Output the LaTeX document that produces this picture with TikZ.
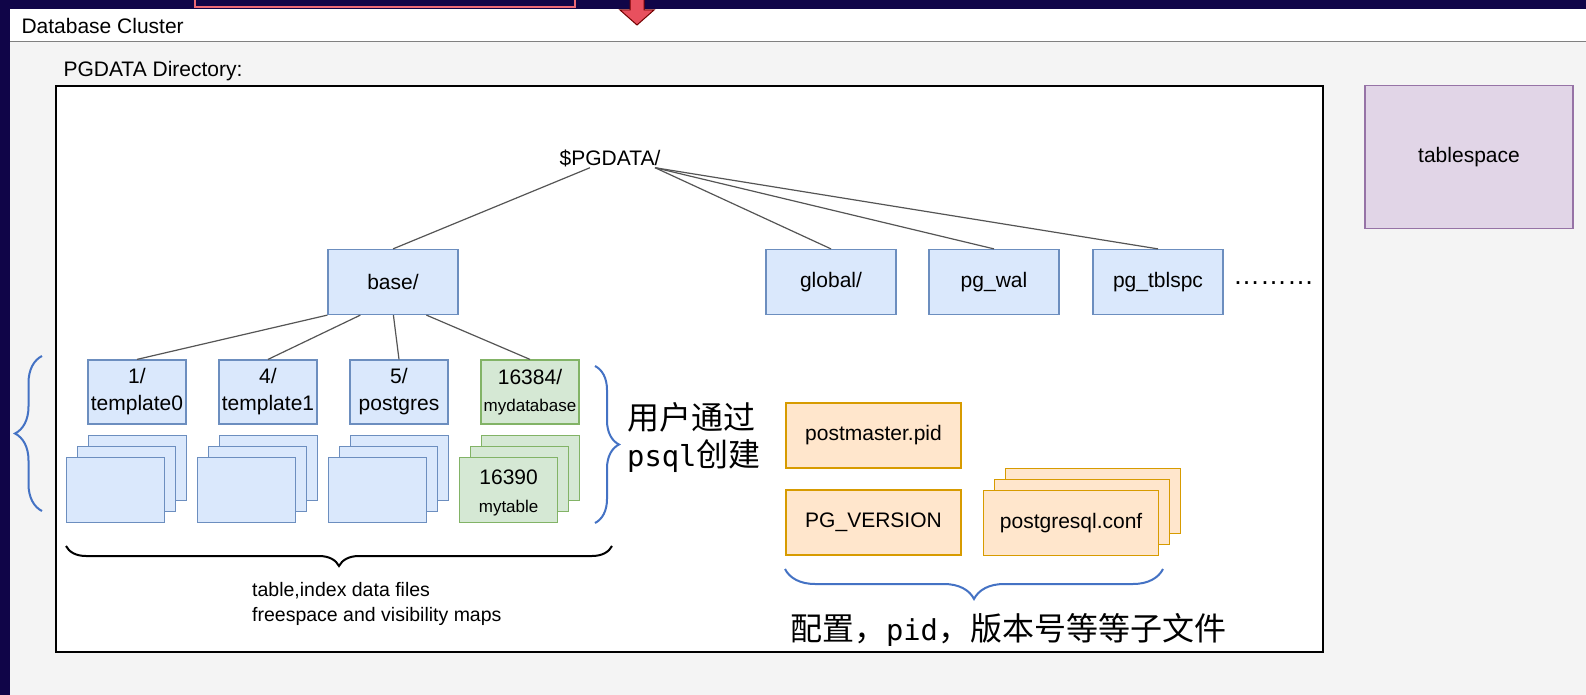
\documentclass[tikz,border=0pt]{standalone}
\usepackage{fontspec}
\setmainfont{Liberation Sans}
\newfontfamily\cjk{Noto Sans CJK SC}
\newfontfamily\halfmono[Scale=0.9]{DejaVu Sans Mono}
\usetikzlibrary{decorations.pathreplacing,positioning}

\definecolor{navy}{RGB}{16,5,72}
\definecolor{panelgrey}{RGB}{244,244,244}
\definecolor{dirFill}{HTML}{DAE8FC}
\definecolor{dirLine}{HTML}{6C8EBF}
\definecolor{dbFill}{HTML}{D5E8D4}
\definecolor{dbLine}{HTML}{82B366}
\definecolor{cfgFill}{HTML}{FFE6CC}
\definecolor{cfgLine}{HTML}{D79B00}
\definecolor{spaceFill}{HTML}{E1D5E7}
\definecolor{spaceLine}{HTML}{9673A6}
\definecolor{braceBlue}{HTML}{4472C4}
\definecolor{arrowRed}{HTML}{E8505E}
\definecolor{linkGrey}{RGB}{85,85,85}

\newcommand{\pxfont}[2]{\fontsize{#1}{#2}\selectfont}

\tikzset{
  dirbox/.style={draw=dirLine, fill=dirFill, line width=1.2pt, inner sep=0pt,
    align=center, font=\pxfont{21}{27}},
  dbbox/.style={dirbox, draw=dbLine, fill=dbFill},
  cfgbox/.style={dirbox, draw=cfgLine, fill=cfgFill, minimum width=175, minimum height=65},
  link/.style={draw=linkGrey, line width=1.2pt},
  curly/.style={decorate, decoration={brace, amplitude=#1}, line width=2pt}
}

\begin{document}
\begin{tikzpicture}[x=1pt, y=-1pt]
  \useasboundingbox (0,0) rectangle (1586,695);
  % background and cluster panel
  \fill[navy] (0,0) rectangle (1586,695);
  \fill[panelgrey] (10,9) rectangle (1586,695);
  \fill[white] (10,9) rectangle (1586,42);
  \draw[gray, line width=1pt] (10,42) -- (1586,42);
  \draw[draw=arrowRed!85, fill=navy, line width=1.2pt] (195,-5) rectangle (575,7);
  \filldraw[fill=arrowRed, draw=red!45!black, line width=1pt]
    (630,-2) -- (644,-2) -- (644,10) -- (654,10) -- (637,25) -- (620,10) -- (630,10) -- cycle;
  \node[anchor=west, font=\pxfont{21}{26}] (cluster) at (18,26) {Database Cluster};

  % PGDATA directory
  \node[anchor=west, font=\pxfont{21}{26}] (pgdatalabel) at (60,71) {PGDATA Directory:};
  \draw[black, fill=white, line width=1.3pt] (56,86) rectangle (1323,652);

  \node[font=\pxfont{21}{26}, inner sep=1pt] (pgdata) at (610,158) {\$PGDATA/};
  \node[dirbox, minimum width=130, minimum height=65] (base) at (393,282) {base/};
  \node[dirbox, minimum width=130, minimum height=65] (global) at (831,282) {global/};
  \node[dirbox, minimum width=130, minimum height=65] (pgwal) at (994,282) {pg\_wal};
  \node[dirbox, minimum width=130, minimum height=65] (pgtblspc) at (1158,282) {pg\_tblspc};
  \node[anchor=base west, font=\pxfont{27}{30}, inner sep=0pt] (more) at (1233,284) {………};

  \draw[link] ([xshift=-20]pgdata.south) -- (base.north);
  \foreach \sub in {global, pgwal, pgtblspc}
    \draw[link] ([xshift=45]pgdata.south) -- (\sub.north);

  % databases under base/
  \node[dirbox, minimum width=98, minimum height=64] (tmpl0) at (137,392) {1/\\template0};
  \node[dirbox, minimum width=98, minimum height=64] (tmpl1) at (268,392) {4/\\template1};
  \node[dirbox, minimum width=98, minimum height=64] (postgres) at (399,392) {5/\\postgres};
  \node[dbbox, minimum width=98, minimum height=64] (mydb) at (530,392)
    {16384/\\\pxfont{17}{28}mydatabase};

  \foreach \child [count=\j from 0] in {tmpl0, tmpl1, postgres, mydb}
    \draw[link] ([xshift={33*\j}]base.south west) -- (\child.north);

  % data files, three sheets each
  \foreach \bx/\edge/\face [count=\i] in {88/dirLine/dirFill, 219/dirLine/dirFill,
      350/dirLine/dirFill, 481/dbLine/dbFill} {
    \foreach \k in {0,1,2}
      \node[dirbox, draw=\edge, fill=\face, minimum width=98, minimum height=65,
        anchor=north west] (file\i\k) at ({\bx-11*\k}, {435+11*\k}) {};
  }
  \node[align=center, inner sep=0pt, font=\pxfont{21}{28}] (mytable) at ([yshift=-3]file42)
    {16390\\\pxfont{17}{28}mytable};

  \draw[curly=27, draw=braceBlue] (42,511) -- (42,356);
  \draw[curly=24, draw=braceBlue] (595,366) -- (595,523);
  \node[anchor=west, inner sep=0pt, align=left, font=\cjk\pxfont{32}{37}] (bypsql)
    at (627,437) {用户通过\\{\halfmono psql}创建};

  \draw[curly=20, draw=black] (612,546) -- (66,546);
  \node[anchor=west, inner sep=0pt, align=left, font=\pxfont{19.5}{25}] (maps)
    at (252,604) {table,index data files\\freespace and visibility maps};

  % config files
  \node[cfgbox] (pidfile) at (873.5,435.5) {postmaster.pid};
  \node[cfgbox] (version) at (873.5,522.5) {PG\_VERSION};
  \foreach \k in {0,1}
    \node[cfgbox, anchor=north west] (conf\k) at ({1005-11*\k}, {468+11*\k}) {};
  \node[cfgbox, anchor=north west] (conf2) at (983,490) {postgresql.conf};

  \draw[curly=30, draw=braceBlue] (1163,569) -- (785,569);
  \node[font=\cjk\pxfont{32}{37}, inner sep=0pt] (cfgnote) at (1008,630)
    {配置，{\halfmono pid}，版本号等等子文件};

  % tablespace
  \node[draw=spaceLine, fill=spaceFill, line width=1.2pt, minimum width=208,
    minimum height=143, font=\pxfont{21}{26}] (tblspace) at (1469,157) {tablespace};
\end{tikzpicture}
\end{document}
